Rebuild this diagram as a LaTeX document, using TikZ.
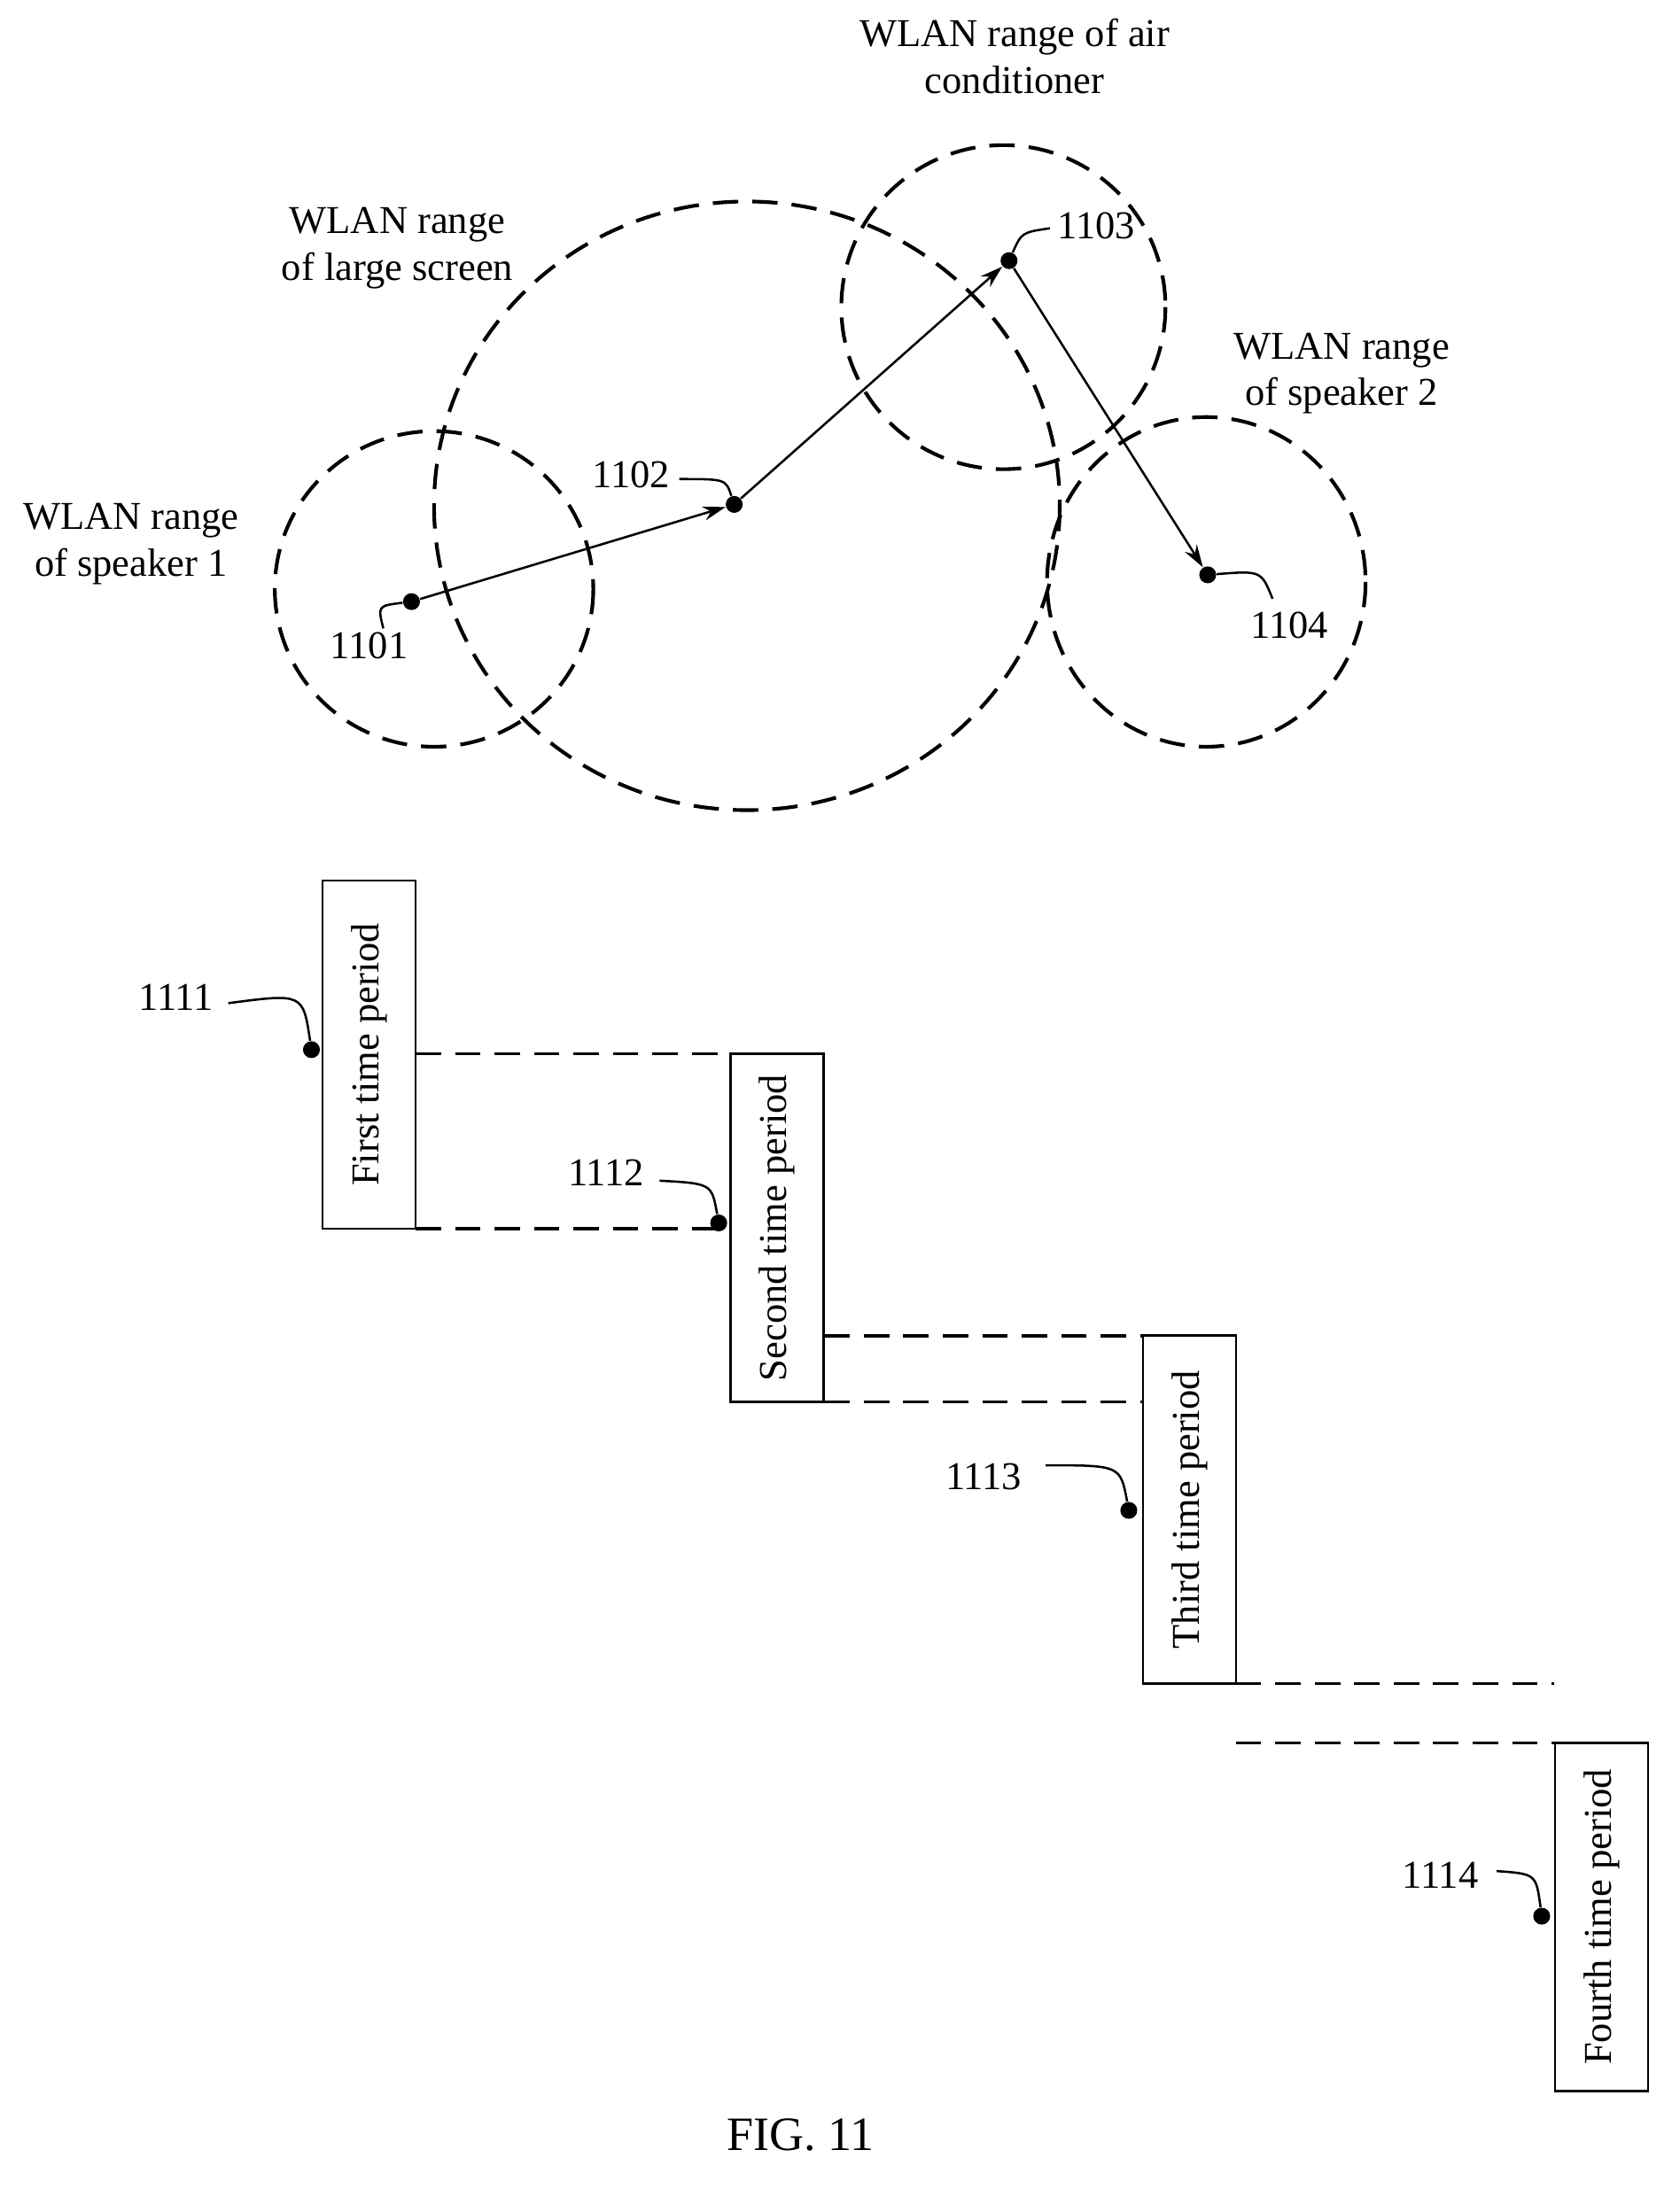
\documentclass[tikz,border=0pt]{standalone}
\usepackage{fontspec}
\setmainfont{Liberation Serif}
\usetikzlibrary{arrows.meta}
\begin{document}
\begin{tikzpicture}[x=0.5pt,y=-0.5pt,
  every node/.style={font=\fontsize{14}{16.5}\selectfont},
  rng/.style={line width=1.3pt,dash pattern=on 9pt off 5pt},
  dsh/.style={line width=1.1pt,dash pattern=on 9pt off 5pt},
  dot/.style={circle,fill=black,inner sep=0pt,minimum size=6pt},
  arr/.style={line width=0.8pt,-{Stealth[length=8pt,width=5pt]}},
  lead/.style={line width=0.8pt},
  box/.style={draw,line width=0.8pt,minimum width=33pt,minimum height=123.5pt,inner sep=0pt}]
\useasboundingbox (0,0) rectangle (1186,1570);
\draw[rng] (308,418) ellipse [x radius=113,y radius=112];
\draw[rng] (530,359) ellipse [x radius=222,y radius=216];
\draw[rng] (712,218) ellipse [x radius=115,y radius=115];
\draw[rng] (856,413) ellipse [x radius=113,y radius=117];
\node[dot] (p1) at (292,427) {};
\node[dot] (p2) at (521,358) {};
\node[dot] (p3) at (716,185) {};
\node[dot] (p4) at (857,408) {};
\draw[arr] (p1) -- (p2);
\draw[arr] (p2) -- (p3);
\draw[arr] (p3) -- (p4);
\node (l1) at (262,458) {1101};
\node (l2) at (448,337) {1102};
\node (l3) at (778,160) {1103};
\node (l4) at (915,444) {1104};
\draw[lead] (272,446) .. controls (268,430) .. (p1);
\draw[lead] (482,340) .. controls (515,340) .. (p2);
\draw[lead] (745,162) .. controls (725,165) .. (p3);
\draw[lead] (903,425) .. controls (895,405) .. (p4);
\node[align=center] at (93,386) {WLAN range\\of speaker 1};
\node[align=center] at (282,176) {WLAN range\\of large screen};
\node[align=center] at (720,40) {WLAN range of air\\conditioner};
\node[align=center] at (952,265) {WLAN range\\of speaker 2};
\node[box] (b1) at (262,748.5) {\rotatebox{90}{First time period}};
\node[box] (b2) at (551.5,871.5) {\rotatebox{90}{Second time period}};
\node[box] (b3) at (844,1071.5) {\rotatebox{90}{Third time period}};
\node[box] (b4) at (1136.5,1360.5) {\rotatebox{90}{Fourth time period}};
\draw[dsh] (295,748) -- (518,748);
\draw[dsh] (295,872) -- (518,872);
\draw[dsh] (585,948) -- (811,948);
\draw[dsh] (585,995) -- (811,995);
\draw[dsh] (877,1195) -- (1103,1195);
\draw[dsh] (877,1237) -- (1103,1237);
\node[dot] (d1) at (221,745) {};
\node[dot] (d2) at (510,868) {};
\node[dot] (d3) at (801,1072) {};
\node[dot] (d4) at (1094,1360) {};
\node (m1) at (125,708) {1111};
\node (m2) at (430,832) {1112};
\node (m3) at (698,1048) {1113};
\node (m4) at (1022,1331) {1114};
\draw[lead] (162,712) .. controls (215,705) .. (d1);
\draw[lead] (468,838) .. controls (505,840) .. (d2);
\draw[lead] (742,1040) .. controls (795,1040) .. (d3);
\draw[lead] (1062,1328) .. controls (1090,1330) .. (d4);
\node[font=\fontsize{17}{20}\selectfont] at (568,1515) {FIG. 11};
\end{tikzpicture}
\end{document}
